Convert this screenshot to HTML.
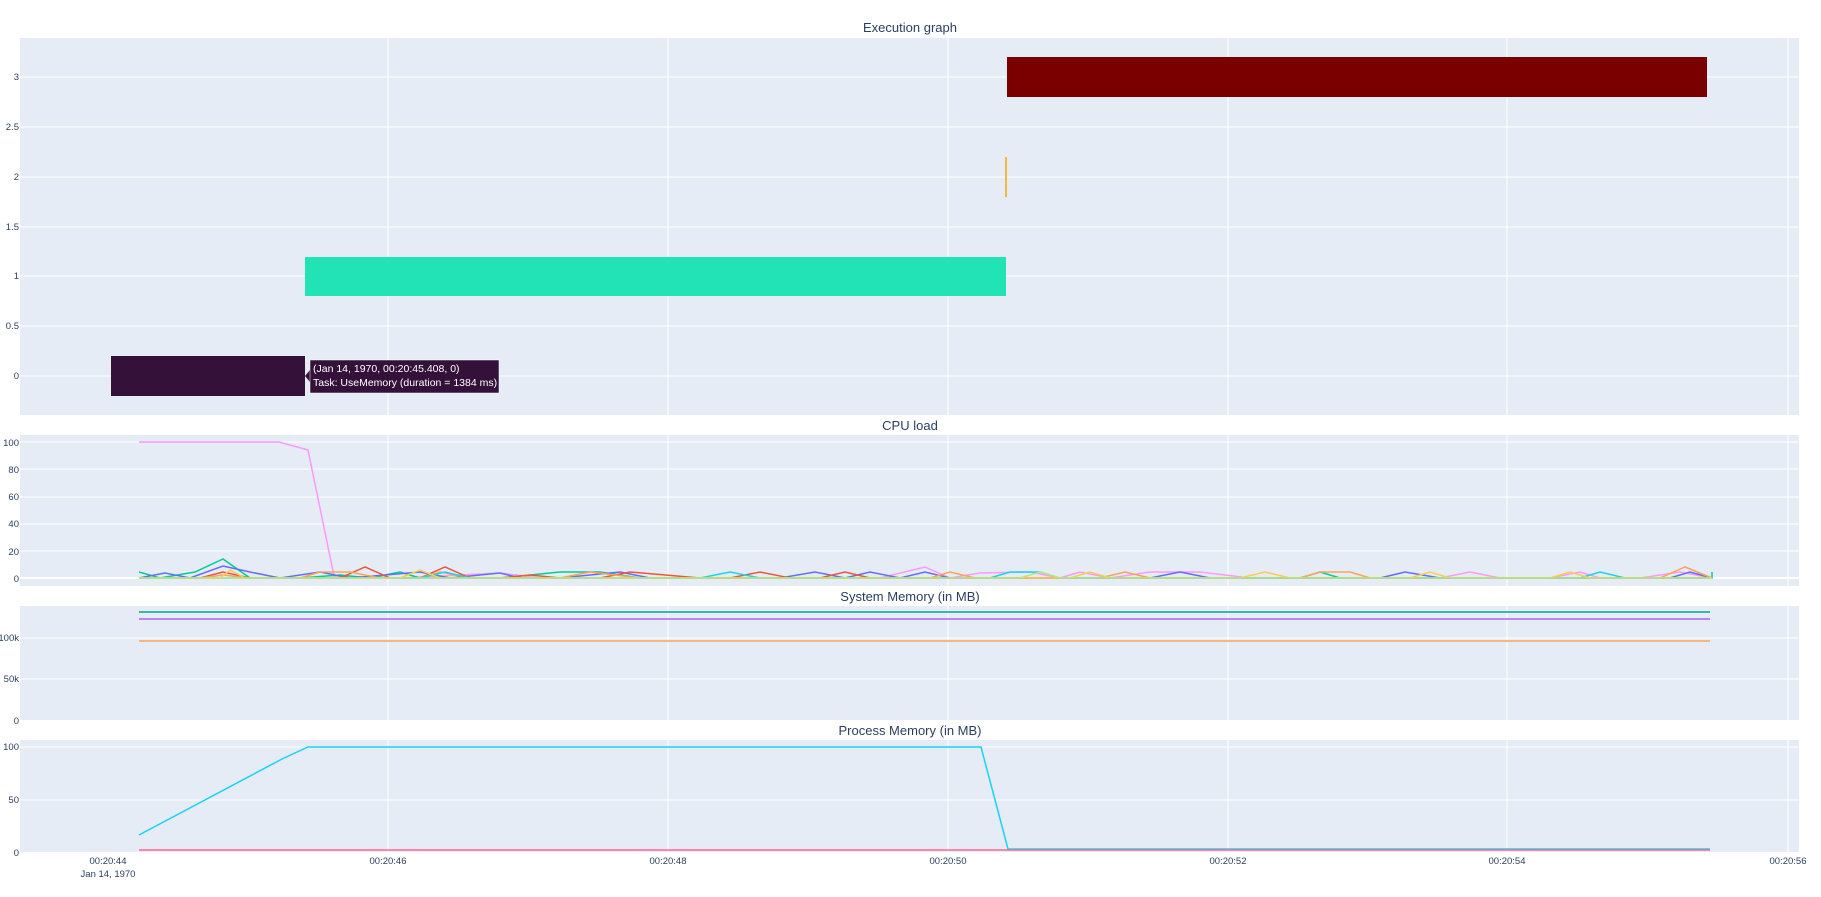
<!DOCTYPE html>
<html><head><meta charset="utf-8"><style>
body{margin:0;background:#fff;}
svg{display:block;font-family:"Liberation Sans",sans-serif;}
.t{font-size:13px;fill:#2a3f5f;text-anchor:middle}
.yl{font-size:9.5px;fill:#2a3f5f;text-anchor:end}
.xl{font-size:9.5px;fill:#2a3f5f;text-anchor:middle}
.g{stroke:#fff;stroke-width:1}
.p{fill:none;stroke-width:1.5}
</style></head><body>
<svg width="1821" height="897" viewBox="0 0 1821 897">
<rect x="20" y="38" width="1779" height="377" fill="#e5ecf6"/>
<rect x="20" y="435" width="1779" height="151" fill="#e5ecf6"/>
<rect x="20" y="606" width="1779" height="114" fill="#e5ecf6"/>
<rect x="20" y="740" width="1779" height="112" fill="#e5ecf6"/>
<g class="g">
<line x1="388" y1="38" x2="388" y2="415"/><line x1="668" y1="38" x2="668" y2="415"/><line x1="948" y1="38" x2="948" y2="415"/><line x1="1228" y1="38" x2="1228" y2="415"/><line x1="1507" y1="38" x2="1507" y2="415"/><line x1="1788" y1="38" x2="1788" y2="415"/>
<line x1="388" y1="435" x2="388" y2="586"/><line x1="668" y1="435" x2="668" y2="586"/><line x1="948" y1="435" x2="948" y2="586"/><line x1="1228" y1="435" x2="1228" y2="586"/><line x1="1507" y1="435" x2="1507" y2="586"/><line x1="1788" y1="435" x2="1788" y2="586"/>
<line x1="388" y1="606" x2="388" y2="720"/><line x1="668" y1="606" x2="668" y2="720"/><line x1="948" y1="606" x2="948" y2="720"/><line x1="1228" y1="606" x2="1228" y2="720"/><line x1="1507" y1="606" x2="1507" y2="720"/><line x1="1788" y1="606" x2="1788" y2="720"/>
<line x1="388" y1="740" x2="388" y2="852"/><line x1="668" y1="740" x2="668" y2="852"/><line x1="948" y1="740" x2="948" y2="852"/><line x1="1228" y1="740" x2="1228" y2="852"/><line x1="1507" y1="740" x2="1507" y2="852"/><line x1="1788" y1="740" x2="1788" y2="852"/>
<line x1="20" y1="77" x2="1799" y2="77"/><line x1="20" y1="127" x2="1799" y2="127"/><line x1="20" y1="177" x2="1799" y2="177"/><line x1="20" y1="227" x2="1799" y2="227"/><line x1="20" y1="276" x2="1799" y2="276"/><line x1="20" y1="326" x2="1799" y2="326"/><line x1="20" y1="376" x2="1799" y2="376"/>
<line x1="20" y1="442" x2="1799" y2="442"/><line x1="20" y1="469" x2="1799" y2="469"/><line x1="20" y1="497" x2="1799" y2="497"/><line x1="20" y1="524" x2="1799" y2="524"/><line x1="20" y1="551" x2="1799" y2="551"/><line x1="20" y1="578" x2="1799" y2="578" stroke-width="2"/>
<line x1="20" y1="638" x2="1799" y2="638"/><line x1="20" y1="679" x2="1799" y2="679"/>
<line x1="20" y1="747" x2="1799" y2="747"/><line x1="20" y1="800" x2="1799" y2="800"/>
</g>
<text class="t" x="910" y="32">Execution graph</text>
<text class="t" x="910" y="430">CPU load</text>
<text class="t" x="910" y="601">System Memory (in MB)</text>
<text class="t" x="910" y="735">Process Memory (in MB)</text>
<g class="yl">
<text x="19" y="80">3</text><text x="19" y="130">2.5</text><text x="19" y="180">2</text><text x="19" y="230">1.5</text><text x="19" y="279">1</text><text x="19" y="329">0.5</text><text x="19" y="379">0</text>
<text x="19" y="446">100</text><text x="19" y="473">80</text><text x="19" y="500">60</text><text x="19" y="527">40</text><text x="19" y="555">20</text><text x="19" y="582">0</text>
<text x="19" y="641">100k</text><text x="19" y="682">50k</text><text x="19" y="724">0</text>
<text x="19" y="750">100</text><text x="19" y="803">50</text><text x="19" y="856">0</text>
</g>
<g class="xl">
<text x="108" y="864">00:20:44</text><text x="108" y="877">Jan 14, 1970</text>
<text x="388" y="864">00:20:46</text><text x="668" y="864">00:20:48</text><text x="948" y="864">00:20:50</text><text x="1228" y="864">00:20:52</text><text x="1507" y="864">00:20:54</text><text x="1788" y="864">00:20:56</text>
</g>
<rect x="1007" y="57" width="700" height="40" fill="#7a0000"/>
<rect x="305" y="257" width="701" height="39" fill="#21e3b6"/>
<rect x="111" y="356" width="194" height="40" fill="#331139"/>
<line x1="1006" y1="157" x2="1006" y2="197" stroke="#ffa500" stroke-width="1.5"/>
<polygon points="305,376 310,370 310,382" fill="#331139"/>
<rect x="310" y="360" width="189" height="33" fill="#331139" stroke="#fff" stroke-width="0.5"/>
<text x="313" y="372" font-size="10.5" fill="#fff">(Jan 14, 1970, 00:20:45.408, 0)</text>
<text x="313" y="386" font-size="10.5" fill="#fff">Task: UseMemory (duration = 1384 ms)</text>
<polyline class="p" stroke="#FF97FF" points="139,442 279,442 308,450 334,576 400,578 500,573 540,578 880,578 925,567 950,578 980,573 1030,572 1060,578 1080,572 1110,578 1150,572 1200,572 1250,578 1330,578 1390,578 1440,578 1470,572 1500,578 1550,578 1580,572 1600,578 1640,578 1680,572 1712,578"/>
<polyline class="p" stroke="#00cc96" points="139,572 160,578 195,572 223,559 250,578 300,578 340,575 370,578 400,572 420,578 500,578 560,572 600,572 640,578 1300,578 1320,572 1340,578 1712,578 1712,572"/>
<polyline class="p" stroke="#636efa" points="139,578 165,573 190,578 223,566 250,572 280,578 320,572 350,578 420,572 450,578 500,573 520,578 560,578 620,572 650,578 780,578 815,572 845,578 870,572 900,578 925,572 950,578 1150,578 1180,572 1210,578 1380,578 1405,572 1440,578 1670,578 1690,572 1712,578"/>
<polyline class="p" stroke="#EF553B" points="139,578 200,578 223,572 250,578 340,578 365,567 390,578 420,578 445,567 470,578 500,578 530,575 560,578 600,578 630,572 700,578 730,578 760,572 790,578 820,578 845,572 870,578 1712,578"/>
<polyline class="p" stroke="#FFA15A" points="139,578 200,578 223,575 250,578 300,578 320,572 350,572 380,578 420,578 440,572 470,578 560,578 590,572 640,578 930,578 950,572 975,578 1100,578 1125,572 1150,578 1300,578 1320,572 1350,572 1370,578 1660,578 1685,567 1712,578"/>
<polyline class="p" stroke="#19d3f3" points="139,578 420,578 445,572 470,578 700,578 730,572 760,578 990,578 1010,572 1040,572 1060,578 1580,578 1600,572 1625,578 1712,578"/>
<polyline class="p" stroke="#FECB52" points="139,578 220,578 230,570 245,578 400,578 420,570 440,578 1070,578 1090,572 1110,578 1240,578 1265,572 1290,578 1410,578 1430,572 1450,578 1550,578 1570,572 1590,578 1712,578"/>
<polyline class="p" stroke="#B6E880" points="139,578 1020,578 1040,572 1060,578 1712,578"/>
<line x1="139" y1="612" x2="1710" y2="612" stroke="#00a88a" stroke-width="1.5"/>
<line x1="139" y1="619" x2="1710" y2="619" stroke="#ab63fa" stroke-width="1.5"/>
<line x1="139" y1="641" x2="1710" y2="641" stroke="#FFA15A" stroke-width="1.5"/>
<polyline class="p" stroke="#19d3f3" points="139,835 282,759 308,747 981,747 1008,849 1710,849"/>
<line x1="139" y1="850" x2="1710" y2="850" stroke="#FF6692" stroke-width="1.5"/>
</svg>
</body></html>
